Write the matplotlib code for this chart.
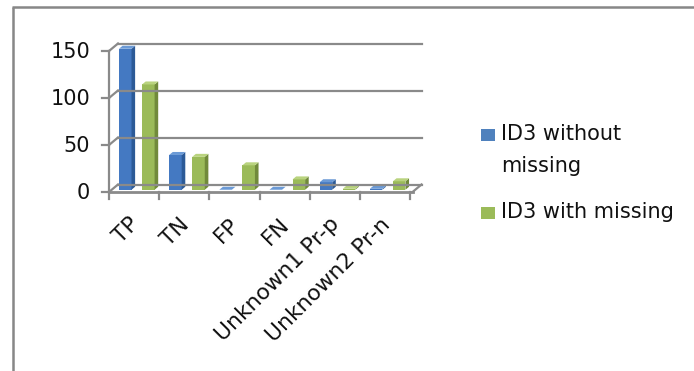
import matplotlib
matplotlib.use("Agg")
import matplotlib.pyplot as plt
from matplotlib.patches import Polygon, Rectangle
from matplotlib.lines import Line2D

# ---- data ----
categories = ["TP", "TN", "FP", "FN", "Unknown1 Pr-p", "Unknown2 Pr-n"]
without_missing = [150, 37, 0, 0, 8, 1]
with_missing = [112, 35, 26, 11, 1, 9]
series_labels = ["ID3 without\nmissing", "ID3 with missing"]
y_ticks = [0, 50, 100, 150]

# ---- styling ----
FONT = "DejaVu Sans"
FS = 15
GRID = "#8a8a8a"
face_colors = [
    # front, side, top
    ("#4479c2", "#2c5a97", "#6b9ad6"),
    ("#9bbb59", "#718a3b", "#b9d37e"),
]
legend_colors = ["#4f81bd", "#9bbb59"]

W, H = 694, 371
fig = plt.figure(figsize=(W / 100, H / 100), dpi=100)
ax = fig.add_axes([0, 0, 1, 1])
ax.set_axis_off()

# axis scales: one category per unit, values in data units
X0_PX, CAT_PX = 109.0, 50.17      # left edge of plot floor, width of a category
Y0_PX, UNIT_PX = 192.0, 0.94      # baseline row, pixels per value unit
ax.set_xlim(-0.5 - X0_PX / CAT_PX, -0.5 + (W - X0_PX) / CAT_PX)
ax.set_ylim(-(H - Y0_PX) / UNIT_PX, Y0_PX / UNIT_PX)

# perspective depth of the 3-D box
DX = 9.0 / CAT_PX
DY = 7.5 / UNIT_PX
n = len(categories)
x_left, x_right = -0.5, n - 0.5 + 0.05
y_top = max(y_ticks)

lw = 1.6
# back wall gridlines and side-wall diagonals
for v in y_ticks:
    ax.add_line(Line2D([x_left + DX, x_right + DX], [v + DY, v + DY], color=GRID, lw=lw))
    ax.add_line(Line2D([x_left, x_left + DX], [v, v + DY], color=GRID, lw=lw))
    ax.add_line(Line2D([x_left - 7 / CAT_PX, x_left], [v, v], color=GRID, lw=lw))
    ax.text(x_left - 19 / CAT_PX, v - 1.5, str(v), ha="right", va="center",
            fontsize=FS, family=FONT, color="#111111")

# value axis
ax.add_line(Line2D([x_left, x_left], [0, y_top], color=GRID, lw=lw))

# floor outline
ax.add_line(Line2D([x_left, x_right], [0, 0], color=GRID, lw=lw + 0.4))
ax.add_line(Line2D([x_right, x_right + DX], [0, DY], color=GRID, lw=lw))

# category ticks
for i in range(n + 1):
    ax.add_line(Line2D([x_left + i, x_left + i], [0, -6.5 / UNIT_PX], color=GRID, lw=lw))

# 3-D columns
bar_w = 0.25
offsets = [-0.23, 0.23]
f0, f1 = 0.3, 0.7
bdx, bdy = (f1 - f0) * DX, (f1 - f0) * DY
order = []
for i in range(n):
    for s, vals in enumerate([without_missing, with_missing]):
        order.append((i, s, vals[i]))
for i, s, v in order:
    front, side, top = face_colors[s]
    xl = i + offsets[s] - bar_w / 2 + f0 * DX
    yb = f0 * DY
    yt = yb + v
    xr = xl + bar_w
    ax.add_patch(Rectangle((xl, yb), bar_w, v, facecolor=front, edgecolor="none"))
    ax.add_patch(Polygon([(xr, yb), (xr + bdx, yb + bdy), (xr + bdx, yt + bdy), (xr, yt)],
                         closed=True, facecolor=side, edgecolor="none"))
    ax.add_patch(Polygon([(xl, yt), (xr, yt), (xr + bdx, yt + bdy), (xl + bdx, yt + bdy)],
                         closed=True, facecolor=top, edgecolor="none"))

# category labels
for i, name in enumerate(categories):
    ax.text(i + 9 / CAT_PX, -22 / UNIT_PX, name, rotation=45, ha="right", va="top",
            fontsize=FS + 0.8, family=FONT, color="#111111")

# legend, placed in figure pixels
def fx(px):
    return px / W

def fy(py):
    return 1 - py / H

legend_rows = [129, 207]
for lab, col, ry in zip(series_labels, legend_colors, legend_rows):
    fig.add_artist(Rectangle((fx(481), fy(ry + 12)), 14 / W, 12 / H,
                             transform=fig.transFigure, facecolor=col, edgecolor="none"))
    fig.text(fx(501), fy(ry - 5), lab, ha="left", va="top", fontsize=FS,
             family=FONT, color="#111111", linespacing=1.75)

# chart frame
fig.add_artist(Line2D([fx(12), fx(W)], [fy(6.5), fy(6.5)], transform=fig.transFigure,
                      color="#878787", lw=1.8, solid_capstyle="butt"))
fig.add_artist(Line2D([fx(12.5), fx(12.5)], [fy(6.5), fy(H)], transform=fig.transFigure,
                      color="#878787", lw=1.8, solid_capstyle="butt"))

fig.savefig("out.png", dpi=100, facecolor="white")
